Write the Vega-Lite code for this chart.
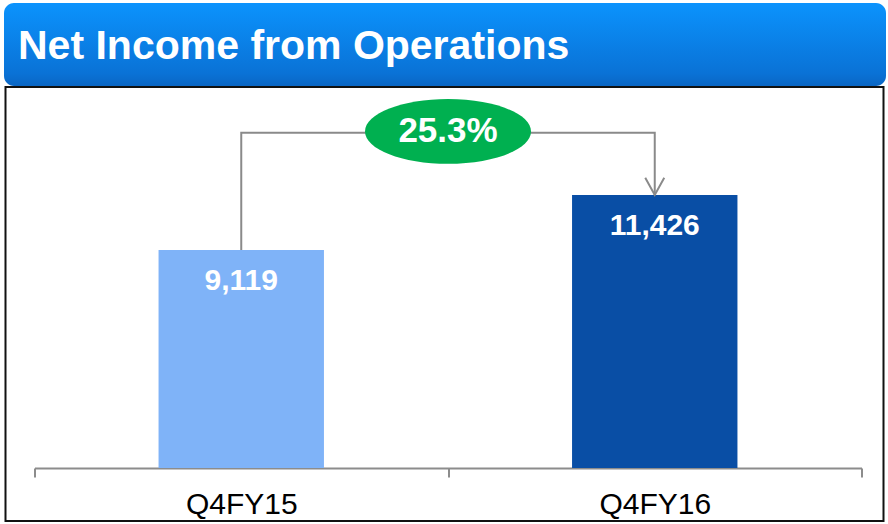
{
  "$schema": "https://vega.github.io/schema/vega-lite/v6.json",
  "background": "white",
  "padding": {"left": 4, "top": 3, "right": 2, "bottom": 4},
  "spacing": 0,
  "center": true,
  "config": {"font": "Liberation Sans"},
  "datasets": {
    "bars": [
      {"period": "Q4FY15", "value": 9119},
      {"period": "Q4FY16", "value": 11426}
    ],
    "connector": [
      {"period": "Q4FY15", "v": 9119, "o": 1},
      {"period": "Q4FY15", "v": 14030, "o": 2},
      {"period": "Q4FY16", "v": 14030, "o": 3},
      {"period": "Q4FY16", "v": 11426, "o": 4}
    ],
    "growth": [
      {"period": "Q4FY15", "v": 14080, "label": "25.3%"}
    ],
    "heading": [
      {"title": "Net Income from Operations", "px": 0, "py": 1}
    ]
  },
  "vconcat": [
    {
      "width": 882,
      "height": 83,
      "view": {"stroke": null},
      "layer": [
        {
          "data": {"values": [{}]},
          "mark": {
            "type": "rect",
            "cornerRadius": 10,
            "fill": {
              "x1": 0, "y1": 0, "x2": 0, "y2": 1,
              "gradient": "linear",
              "stops": [
                {"offset": 0, "color": "#0b93fd"},
                {"offset": 0.85, "color": "#0a72d6"},
                {"offset": 1, "color": "#0a66c4"}
              ]
            }
          },
          "encoding": {}
        },
        {
          "data": {"name": "heading"},
          "mark": {"type": "text", "color": "white", "fontSize": 41, "fontWeight": "bold", "align": "left", "baseline": "alphabetic", "dx": 14, "dy": 56, "font": "Liberation Sans"},
          "encoding": {
            "x": {"field": "px", "type": "quantitative", "scale": {"domain": [0, 1]}, "axis": null},
            "y": {"field": "py", "type": "quantitative", "scale": {"domain": [0, 1]}, "axis": null},
            "text": {"field": "title"}
          }
        }
      ]
    },
    {
      "width": 878,
      "height": 434,
      "view": {"stroke": "#111", "strokeWidth": 2},
      "layer": [
        {
          "data": {"name": "bars"},
          "mark": {"type": "bar", "width": {"band": 0.4}},
          "encoding": {
            "x": {
              "field": "period", "type": "nominal", "sort": null,
              "scale": {"range": [29, 856], "paddingInner": 0, "paddingOuter": 0},
              "axis": {
                "orient": "bottom",
                "offset": -53,
                "title": null,
                "labelAngle": 0,
                "labelFont": "Liberation Sans",
                "labelFontSize": 30,
                "labelColor": "#000",
                "labelPadding": 12,
                "domainColor": "#8c8c8c",
                "domainWidth": 2,
                "tickColor": "#8c8c8c",
                "tickWidth": 2,
                "tickSize": 9,
                "tickBand": "extent",
                "grid": false
              }
            },
            "y": {
              "field": "value", "type": "quantitative",
              "scale": {"domain": [0, 15940], "range": [381, 0], "nice": false},
              "axis": null
            },
            "color": {
              "field": "period", "type": "nominal",
              "scale": {"domain": ["Q4FY15", "Q4FY16"], "range": ["#7fb3f8", "#094ea5"]},
              "legend": null
            }
          }
        },
        {
          "data": {"name": "bars"},
          "mark": {"type": "text", "color": "white", "fontSize": 30, "fontWeight": "bold", "baseline": "alphabetic", "dy": 40, "font": "Liberation Sans"},
          "encoding": {
            "x": {"field": "period", "type": "nominal", "sort": null},
            "y": {"field": "value", "type": "quantitative"},
            "text": {"field": "value", "type": "quantitative", "format": ",.0f"}
          }
        },
        {
          "data": {"name": "connector"},
          "mark": {"type": "line", "color": "#8a8a8a", "strokeWidth": 2, "interpolate": "linear"},
          "encoding": {
            "x": {"field": "period", "type": "nominal", "sort": null},
            "y": {"field": "v", "type": "quantitative"},
            "order": {"field": "o", "type": "quantitative"}
          }
        },
        {
          "data": {"name": "connector"},
          "transform": [{"filter": "datum.o == 4"}],
          "mark": {"type": "point", "shape": "M-1,-1.8L0,0L1,-1.8", "filled": false, "stroke": "#8a8a8a", "strokeWidth": 2, "size": 361, "opacity": 1},
          "encoding": {
            "x": {"field": "period", "type": "nominal", "sort": null},
            "y": {"field": "v", "type": "quantitative"}
          }
        },
        {
          "data": {"name": "growth"},
          "mark": {"type": "point", "shape": "M-1,0C-1,-0.215 -0.552,-0.39 0,-0.39C0.552,-0.39 1,-0.215 1,0C1,0.215 0.552,0.39 0,0.39C-0.552,0.39 -1,0.215 -1,0Z", "filled": true, "fill": "#00b050", "strokeWidth": 0, "size": 27556, "opacity": 1},
          "encoding": {
            "x": {"field": "period", "type": "nominal", "sort": null, "bandPosition": 1},
            "y": {"field": "v", "type": "quantitative"}
          }
        },
        {
          "data": {"name": "growth"},
          "mark": {"type": "text", "color": "white", "fontSize": 35, "fontWeight": "bold", "baseline": "middle", "font": "Liberation Sans"},
          "encoding": {
            "x": {"field": "period", "type": "nominal", "sort": null, "bandPosition": 1},
            "y": {"field": "v", "type": "quantitative"},
            "text": {"field": "label"}
          }
        }
      ]
    }
  ]
}
